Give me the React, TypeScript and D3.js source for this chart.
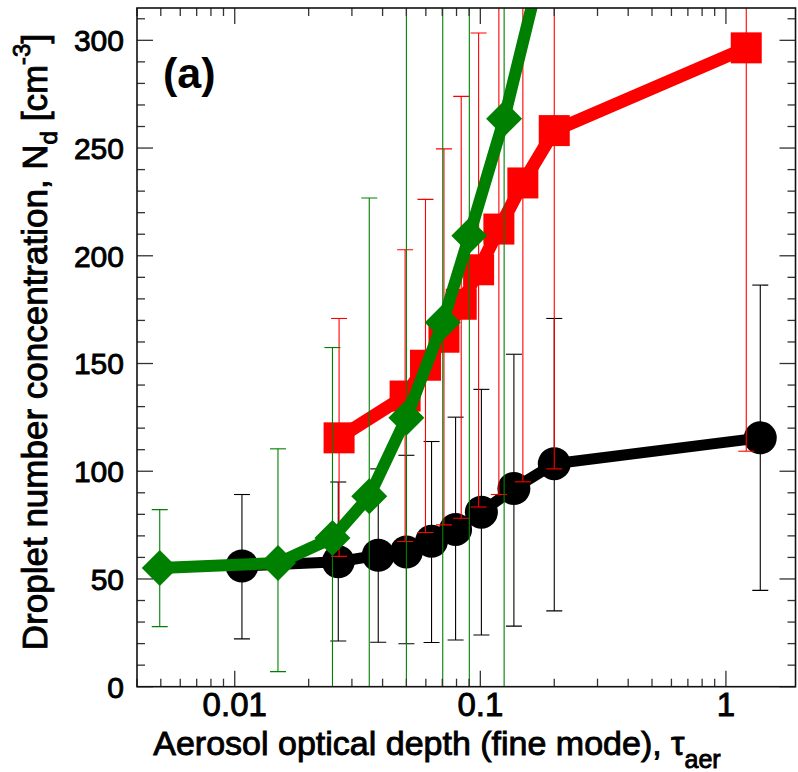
import React from 'react';
import * as d3 from 'd3';

// ---- data ----
const blackX = [0.0107, 0.0264, 0.0384, 0.05, 0.0633, 0.0793, 0.101, 0.137, 0.2, 1.38];
const blackY = [56, 58, 61, 62.5, 67.5, 73, 81, 92, 103.5, 115.5];
const blackLo = [22.2, 21.2, 20.6, 19.9, 20.5, 21.7, 24, 28.1, 35.2, 44.7];
const blackHi = [89.2, 95, 101.1, 107.4, 113.8, 125.1, 138, 154.3, 170.9, 186.4];

const redX = [0.0266, 0.0494, 0.0598, 0.0711, 0.0836, 0.0984, 0.119, 0.149, 0.2, 1.21];
const redY = [115.5, 134.9, 149.2, 162.2, 177.5, 193.5, 212.4, 233.8, 258.1, 296.5];
const redLo = [60.5, 67.4, 71.6, 75.1, 78.2, 83.4, 89.2, 95.1, 101.1, 109.3];
const redHi = [170.9, 202.8, 226.2, 249.6, 274, 303.4, 330, 345, 360, 400];

const greenX = [0.00495, 0.015, 0.025, 0.0353, 0.05, 0.0703, 0.0902, 0.125, 0.18];
const greenY = [55.1, 57.4, 69, 88.4, 124.8, 169, 209.3, 263.6, 337];
const greenLo = [27.9, 7.0, -20, -20, -20, -20, -20, -20, NaN];
const greenHi = [82.2, 110.4, 157.4, 226.8, 400, 400, 400, 400, NaN];

const xTickValues = [0.01, 0.1, 1];
const xTickLabels = ['0.01', '0.1', '1'];
const yTickValues = [0, 50, 100, 150, 200, 250, 300];
const yTickLabels = ['0', '50', '100', '150', '200', '250', '300'];

const W = 798;
const H = 772;
const L = 137;
const R = 795.5;
const T = 8;
const B = 686.7;
const FONT = '"Liberation Sans", Arial, Helvetica, sans-serif';

export default function App() {
  const x = d3.scaleLog().domain([0.004, 1.92]).range([L, R]);
  const y = d3.scaleLinear().domain([0, 315]).range([B, T]);

  const line = d3
    .line<[number, number]>()
    .x((d) => x(d[0]))
    .y((d) => y(d[1]));

  const zip = (a: number[], b: number[]) => a.map((v, i) => [v, b[i]] as [number, number]);

  const minorY = d3.range(0, 316, 10);
  const minorX = x.ticks().filter((v) => v >= 0.004 && v <= 1.92);

  const errorBars = (xs: number[], lo: number[], hi: number[], color: string) =>
    xs.map((xv, i) => {
      if (isNaN(lo[i]) || isNaN(hi[i])) return null;
      const cx = x(xv);
      const y1 = y(lo[i]);
      const y2 = y(hi[i]);
      return (
        <g key={i} stroke={color} strokeWidth={1.1} fill="none">
          <line x1={cx} x2={cx} y1={y1} y2={y2} />
          <line x1={cx - 8} x2={cx + 8} y1={y1} y2={y1} />
          <line x1={cx - 8} x2={cx + 8} y1={y2} y2={y2} />
        </g>
      );
    });

  const green = '#008000';
  const heavy = { stroke: '#000', strokeWidth: 0.9 } as const;

  return (
    <svg
      width={W}
      height={H}
      style={{ position: 'absolute', left: 0, top: 0, background: '#fff' }}
      fontFamily={FONT}
    >
      <defs>
        <clipPath id="plot">
          <rect x={L} y={T} width={R - L} height={B - T} />
        </clipPath>
      </defs>
      <rect x={0} y={0} width={W} height={H} fill="#fff" />

      <g clipPath="url(#plot)">
        {/* black series */}
        <path d={line(zip(blackX, blackY)) || ''} stroke="#000" strokeWidth={11} fill="none" strokeLinejoin="round" />
        {blackX.map((xv, i) => (
          <circle key={i} cx={x(xv)} cy={y(blackY[i])} r={16.5} fill="#000" />
        ))}
        {errorBars(blackX, blackLo, blackHi, '#000')}

        {/* red series */}
        <path d={line(zip(redX, redY)) || ''} stroke="#ff0000" strokeWidth={13} fill="none" strokeLinejoin="round" />
        {redX.map((xv, i) => (
          <rect key={i} x={x(xv) - 15.5} y={y(redY[i]) - 15.5} width={31} height={31} fill="#ff0000" />
        ))}
        {errorBars(redX, redLo, redHi, '#ff0000')}

        {/* green series */}
        <path d={line(zip(greenX, greenY)) || ''} stroke={green} strokeWidth={12} fill="none" strokeLinejoin="round" />
        {greenX.map((xv, i) => {
          const cx = x(xv);
          const cy = y(greenY[i]);
          return (
            <polygon
              key={i}
              points={`${cx},${cy - 18} ${cx + 18},${cy} ${cx},${cy + 18} ${cx - 18},${cy}`}
              fill={green}
            />
          );
        })}
        {errorBars(greenX, greenLo, greenHi, green)}
      </g>

      {/* ticks */}
      <g stroke="#333" strokeWidth={1.3}>
        {minorY.map((v) => {
          const major = v % 50 === 0;
          const len = major ? 16 : 8;
          return (
            <g key={'y' + v}>
              <line x1={L} x2={L + len} y1={y(v)} y2={y(v)} />
              <line x1={R} x2={R - len} y1={y(v)} y2={y(v)} />
            </g>
          );
        })}
        {minorX.map((v, i) => {
          const major = xTickValues.some((t) => Math.abs(t - v) < 1e-9);
          const len = major ? 16 : 8;
          return (
            <g key={'x' + i}>
              <line x1={x(v)} x2={x(v)} y1={B} y2={B - len} />
              <line x1={x(v)} x2={x(v)} y1={T} y2={T + len} />
            </g>
          );
        })}
      </g>

      {/* frame */}
      <rect x={L} y={T} width={R - L} height={B - T} fill="none" stroke="#111" strokeWidth={1.6} />

      {/* tick labels */}
      {yTickValues.map((v, i) => (
        <text key={'yl' + i} x={124} y={y(v)} dy="0.36em" textAnchor="end" fontSize={30} fill="#000" {...heavy}>
          {yTickLabels[i]}
        </text>
      ))}
      {xTickValues.map((v, i) => (
        <text key={'xl' + i} x={x(v)} y={716} textAnchor="middle" fontSize={33} fill="#000" {...heavy}>
          {xTickLabels[i]}
        </text>
      ))}

      {/* axis titles */}
      <text x={437} y={755} textAnchor="middle" fontSize={34} fill="#000" {...heavy}>
        Aerosol optical depth (fine mode), τ
        <tspan fontSize={25} dy={13}>aer</tspan>
      </text>
      <text
        transform={`translate(47, ${342}) rotate(-90)`}
        textAnchor="middle"
        fontSize={35}
        fill="#000"
        {...heavy}
      >
        Droplet number concentration, N
        <tspan fontSize={24} dy={10}>d</tspan>
        <tspan dy={-10}> [cm</tspan>
        <tspan fontSize={24} dy={-17}>-3</tspan>
        <tspan dy={17}>]</tspan>
      </text>

      {/* panel label */}
      <text x={163} y={88} fontSize={43} fontWeight="bold" fill="#000">
        (a)
      </text>
    </svg>
  );
}
